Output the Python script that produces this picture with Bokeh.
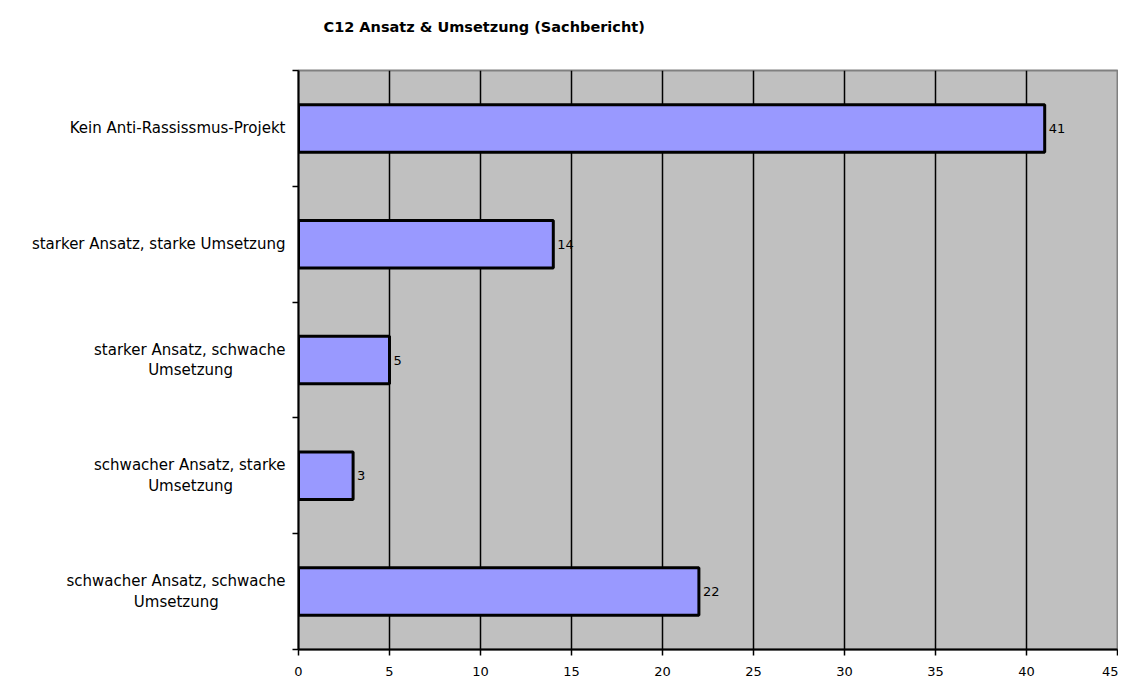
from bokeh.plotting import figure
from bokeh.models import Range1d, FixedTicker, ColumnDataSource, Title
from bokeh.embed import file_html
from bokeh.resources import INLINE
from bokeh.core.properties import value

NB = "\u00a0"
title_text = "C12 Ansatz & Umsetzung (Sachbericht)"
categories = [
    "Kein Anti-Rassissmus-Projekt",
    "starker Ansatz, starke Umsetzung",
    "starker Ansatz, schwache\nUmsetzung" + NB * 11,
    "schwacher Ansatz, starke\nUmsetzung" + NB * 11,
    "schwacher Ansatz, schwache\nUmsetzung" + NB * 14,
]
counts = [41, 14, 5, 3, 22]
x_ticks = [0, 5, 10, 15, 20, 25, 30, 35, 40, 45]

FONT = "DejaVu Sans"
n = len(categories)
ypos = [i + 0.5 for i in range(n)]

src = ColumnDataSource(dict(y=ypos, v=counts, lab=[str(c) for c in counts]))

p = figure(width=1118, height=680, output_backend="svg", toolbar_location=None,
           x_range=Range1d(0, 45), y_range=Range1d(n, 0), title=None)
p.min_border_left = 298
p.min_border_right = 1
p.min_border_top = 70
p.min_border_bottom = 31

# spacer between frame and title, then the title itself
spacer = Title(text=" ", text_font_size="1px", standoff=33)
p.add_layout(spacer, "above")
main_title = Title(text=title_text, text_font=FONT, text_font_size="14.5px",
                   text_font_style="bold", text_color="black",
                   align="left", offset=25, standoff=0)
p.add_layout(main_title, "above")

p.background_fill_color = "#c0c0c0"
p.border_fill_color = "white"
p.outline_line_color = "#808080"
p.outline_line_width = 2

p.hbar(y="y", right="v", left=0, height=0.41, source=src,
       fill_color="#9999ff", line_color="black", line_width=3)
p.text(x="v", y="y", text="lab", source=src, x_offset=4,
       text_baseline="middle", text_align="left",
       text_font=value(FONT), text_font_size="13px", text_color="black")

# x axis
p.xaxis.ticker = FixedTicker(ticks=x_ticks)
p.xaxis.axis_line_color = "black"
p.xaxis.axis_line_width = 2
p.xaxis.major_tick_line_color = "black"
p.xaxis.major_tick_line_width = 1.5
p.xaxis.major_tick_out = 6
p.xaxis.major_tick_in = 0
p.xaxis.minor_tick_line_color = None
p.xaxis.major_label_text_font = FONT
p.xaxis.major_label_text_font_size = "13px"
p.xaxis.major_label_text_color = "black"
p.xaxis.major_label_standoff = 11

# y axis: labels at centers, ticks at boundaries
p.yaxis.ticker = FixedTicker(ticks=ypos, minor_ticks=list(range(n + 1)))
p.yaxis.major_label_overrides = {y: c for y, c in zip(ypos, categories)}
p.yaxis.axis_line_color = "black"
p.yaxis.axis_line_width = 2
p.yaxis.major_tick_line_color = None
p.yaxis.minor_tick_line_color = "black"
p.yaxis.minor_tick_line_width = 1.5
p.yaxis.minor_tick_out = 6
p.yaxis.minor_tick_in = 0
p.yaxis.major_label_text_font = FONT
p.yaxis.major_label_text_font_size = "15px"
p.yaxis.major_label_text_color = "black"
p.yaxis.major_label_text_line_height = 1.15
p.yaxis.major_label_standoff = 7

p.xgrid.ticker = FixedTicker(ticks=x_ticks[1:-1])
p.xgrid.grid_line_color = "black"
p.xgrid.grid_line_width = 1.5
p.ygrid.grid_line_color = None

open("out.html", "w").write(file_html(p, INLINE))
